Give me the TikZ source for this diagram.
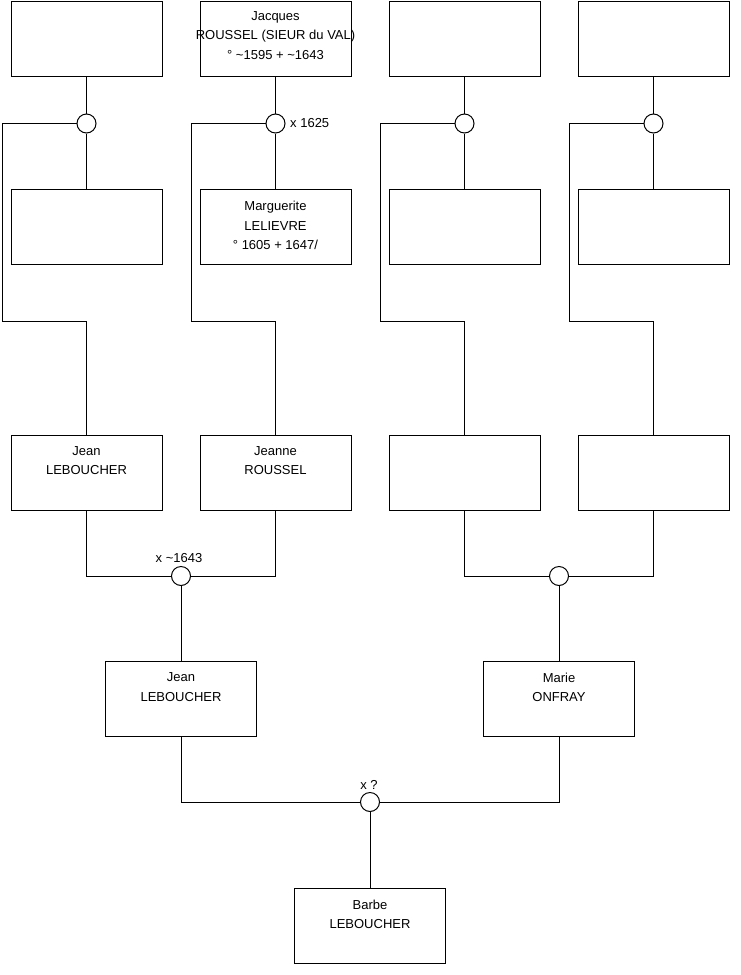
\documentclass[tikz,border=0pt]{standalone}
\usepackage{fontspec}
\setmainfont{Liberation Sans}
\begin{document}
\begin{tikzpicture}[x=1pt,y=-1pt,
  person/.style={draw=black, line width=1pt, minimum width=151pt, minimum height=75pt, inner sep=0pt, fill=white},
  union/.style={circle, draw=black, line width=1pt, minimum size=19pt, inner sep=0pt, fill=white},
  link/.style={draw=black, line width=1pt},
  txt/.style={font=\fontsize{13}{19.5}\selectfont, align=center, inner sep=0pt, anchor=north},
  note/.style={font=\fontsize{13}{15}\selectfont, inner sep=0pt}]
\useasboundingbox (0,0) rectangle (740,975);
% connectors first (drawn under boxes)
\coordinate (k1) at (2,321);
\coordinate (k2) at (191,321);
\coordinate (k3) at (380,321);
\coordinate (k4) at (569,321);
% boxes
\foreach \i/\x in {1/86.5,2/275.5,3/464.5,4/653.5}{
  \node[person] (a\i) at (\x,38.5) {};
  \node[person] (b\i) at (\x,227) {};
  \node[person] (c\i) at (\x,472.5) {};
  \node[union] (u\i) at (\x,123.5) {};
}
\node[union] (u5) at (181,576) {};
\node[union] (u6) at (559,576) {};
\node[person] (d1) at (181,699) {};
\node[person] (d2) at (559,699) {};
\node[union] (u7) at (370,802) {};
\node[person] (e1) at (370,926) {};
% links
\foreach \i in {1,2,3,4}{
  \draw[link] (a\i) -- (u\i);
  \draw[link] (u\i) -- (b\i);
  \draw[link] (u\i.west) -| (k\i) -| (c\i.north);
}
\draw[link] (c1.south) |- (u5.west);
\draw[link] (c2.south) |- (u5.east);
\draw[link] (u5) -- (d1);
\draw[link] (c3.south) |- (u6.west);
\draw[link] (c4.south) |- (u6.east);
\draw[link] (u6) -- (d2);
\draw[link] (d1.south) |- (u7.west);
\draw[link] (d2.south) |- (u7.east);
\draw[link] (u7) -- (e1);
% texts
\node[txt] (ta2) at (275.5,11.3) {Jacques\\ROUSSEL (SIEUR du VAL)\\° \textasciitilde{}1595 + \textasciitilde{}1643};
\node[txt] (tb2) at (275.5,201.3) {Marguerite\\LELIEVRE\\° 1605 + 1647/};
\node[txt] (tc1) at (86.5,446) {Jean\\LEBOUCHER};
\node[txt] (tc2) at (275.5,446) {Jeanne\\ROUSSEL};
\node[txt] (td1) at (181,672.5) {Jean\\LEBOUCHER};
\node[txt] (td2) at (559,672.5) {Marie\\ONFRAY};
\node[txt] (te1) at (370,899.5) {Barbe\\LEBOUCHER};
\node[note, anchor=west] (n1) at (290,123.5) {x 1625};
\node[note] (n2) at (179,558) {x \textasciitilde{}1643};
\node[note] (n3) at (369,785) {x ?};
\end{tikzpicture}
\end{document}
